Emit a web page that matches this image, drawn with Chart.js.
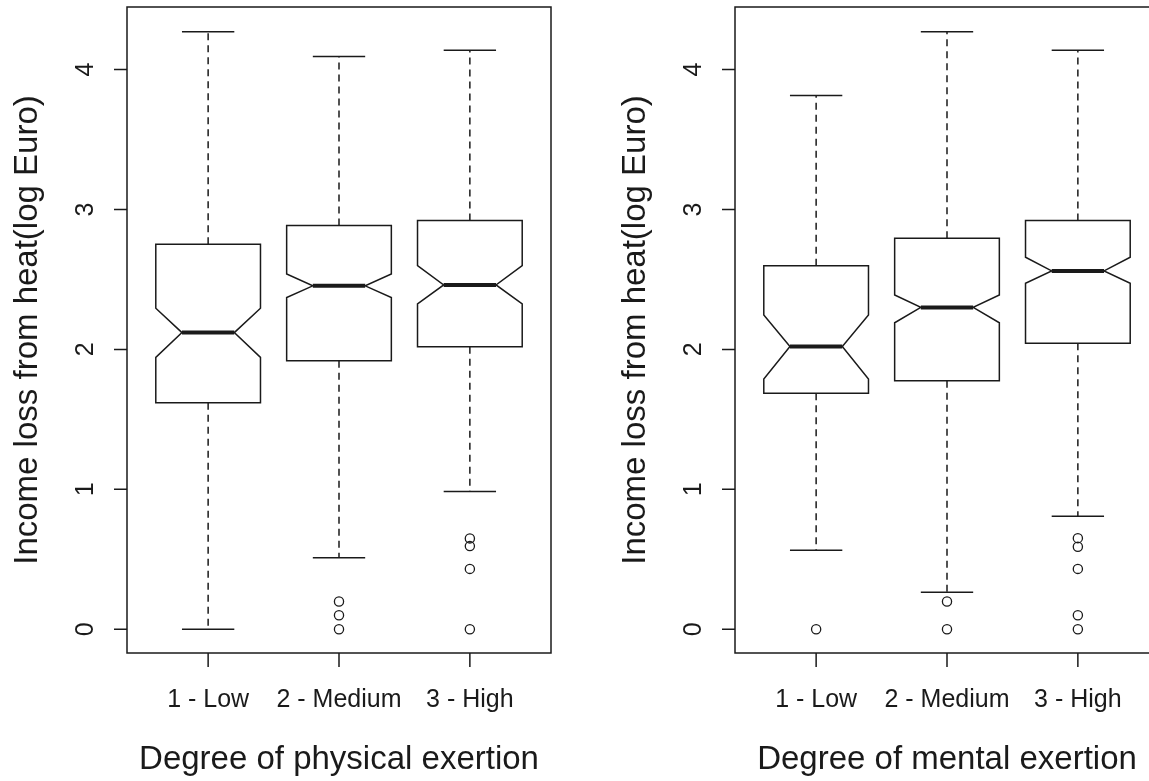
<!DOCTYPE html>
<html>
<head>
<meta charset="utf-8">
<script src="https://cdn.jsdelivr.net/npm/chart.js@4"></script>
<style>
  html, body { margin: 0; padding: 0; background: #fff; overflow: hidden; width: 1149px; height: 781px; }
  canvas { position: absolute; top: 0; }
  #physChart { left: 0; }
  #mentChart { left: 575px; }
</style>
</head>
<body>
<canvas id="physChart" width="575" height="781"></canvas>
<canvas id="mentChart" width="610" height="781"></canvas>
<script>
// categories and tick labels
const categories = ['1 - Low', '2 - Medium', '3 - High'];
const yTicks = [0, 1, 2, 3, 4];
const yTitle = 'Income loss from heat(log Euro)';

// physical exertion
const physWhiskerLow = [0, 0.51, 0.985];
const physQ1 = [1.619, 1.919, 2.019];
const physNotchLow = [1.943, 2.37, 2.325];
const physMedian = [2.12, 2.454, 2.461];
const physNotchHigh = [2.294, 2.539, 2.599];
const physQ3 = [2.752, 2.885, 2.921];
const physWhiskerHigh = [4.27, 4.094, 4.137];
const physOutliers = [[], [0.198, 0.1, 0], [0.649, 0.594, 0.431, 0]];

// mental exertion
const mentWhiskerLow = [0.565, 0.265, 0.808];
const mentQ1 = [1.686, 1.776, 2.044];
const mentNotchLow = [1.788, 2.19, 2.473];
const mentMedian = [2.02, 2.30, 2.561];
const mentNotchHigh = [2.246, 2.389, 2.659];
const mentQ3 = [2.597, 2.795, 2.921];
const mentWhiskerHigh = [3.815, 4.27, 4.137];
const mentOutliers = [[0], [0.198, 0], [0.651, 0.589, 0.431, 0.1, 0]];

const INK = '#1a1a1a';
const FONT = '"Liberation Sans", Arial, sans-serif';

// draws notched boxes, frame, ticks and titles using the chart's own scales
const notchBoxes = {
  id: 'notchBoxes',
  beforeDatasetsDraw(chart, args, o) {
    const ctx = chart.ctx;
    const a = chart.chartArea;
    const xs = chart.scales.x, ys = chart.scales.y;
    const Y = v => ys.getPixelForValue(v);

    ctx.save();
    ctx.strokeStyle = INK;
    ctx.fillStyle = INK;
    ctx.lineJoin = 'miter';

    for (let i = 0; i < categories.length; i++) {
      const c = i + 1;
      const xl = xs.getPixelForValue(c - 0.4), xr = xs.getPixelForValue(c + 0.4);
      const ml = xs.getPixelForValue(c - 0.2), mr = xs.getPixelForValue(c + 0.2);
      const xc = xs.getPixelForValue(c);

      // whiskers
      ctx.lineWidth = 1.5;
      ctx.setLineDash([7, 5]);
      ctx.beginPath();
      ctx.moveTo(xc, Y(o.q3[i])); ctx.lineTo(xc, Y(o.whiskerHigh[i]));
      ctx.moveTo(xc, Y(o.q1[i])); ctx.lineTo(xc, Y(o.whiskerLow[i]));
      ctx.stroke();
      ctx.setLineDash([]);
      ctx.beginPath();
      ctx.moveTo(ml, Y(o.whiskerHigh[i])); ctx.lineTo(mr, Y(o.whiskerHigh[i]));
      ctx.moveTo(ml, Y(o.whiskerLow[i])); ctx.lineTo(mr, Y(o.whiskerLow[i]));
      ctx.stroke();

      // notched box
      ctx.beginPath();
      ctx.moveTo(xl, Y(o.q1[i]));
      ctx.lineTo(xl, Y(o.notchLow[i]));
      ctx.lineTo(ml, Y(o.median[i]));
      ctx.lineTo(xl, Y(o.notchHigh[i]));
      ctx.lineTo(xl, Y(o.q3[i]));
      ctx.lineTo(xr, Y(o.q3[i]));
      ctx.lineTo(xr, Y(o.notchHigh[i]));
      ctx.lineTo(mr, Y(o.median[i]));
      ctx.lineTo(xr, Y(o.notchLow[i]));
      ctx.lineTo(xr, Y(o.q1[i]));
      ctx.closePath();
      ctx.fillStyle = '#fff';
      ctx.fill();
      ctx.stroke();

      // median
      ctx.lineWidth = 4;
      ctx.beginPath();
      ctx.moveTo(ml, Y(o.median[i])); ctx.lineTo(mr, Y(o.median[i]));
      ctx.stroke();
    }

    // frame
    ctx.lineWidth = 1.5;
    ctx.strokeRect(a.left, a.top, a.right - a.left, a.bottom - a.top);

    // y axis
    ctx.fillStyle = INK;
    ctx.font = '25px ' + FONT;
    ctx.textAlign = 'center';
    ctx.textBaseline = 'alphabetic';
    ctx.beginPath();
    for (const v of yTicks) {
      ctx.moveTo(a.left - 13, Y(v)); ctx.lineTo(a.left, Y(v));
    }
    ctx.stroke();
    for (const v of yTicks) {
      ctx.save();
      ctx.translate(a.left - 34, Y(v));
      ctx.rotate(-Math.PI / 2);
      ctx.fillText(String(v), 0, 0);
      ctx.restore();
    }

    // x axis
    ctx.beginPath();
    for (let i = 0; i < categories.length; i++) {
      const px = xs.getPixelForValue(i + 1);
      ctx.moveTo(px, a.bottom); ctx.lineTo(px, a.bottom + 14);
    }
    ctx.stroke();
    for (let i = 0; i < categories.length; i++) {
      ctx.fillText(categories[i], xs.getPixelForValue(i + 1), a.bottom + 54);
    }

    // titles
    ctx.font = '33px ' + FONT;
    ctx.fillText(o.xTitle, (a.left + a.right) / 2, a.bottom + 116);
    ctx.save();
    ctx.translate(a.left - 90, (a.top + a.bottom) / 2);
    ctx.rotate(-Math.PI / 2);
    ctx.fillText(yTitle, 0, 0);
    ctx.restore();

    ctx.restore();
  }
};

function outlierPoints(outliers) {
  const pts = [];
  outliers.forEach((list, i) => list.forEach(v => pts.push({ x: i + 1, y: v })));
  return pts;
}

function makeChart(id, stats, outliers, xTitle, padLeft, padRight) {
  return new Chart(document.getElementById(id), {
    type: 'scatter',
    data: {
      datasets: [{
        data: outlierPoints(outliers),
        pointStyle: 'circle',
        pointRadius: 4.6,
        borderWidth: 1.3,
        borderColor: INK,
        backgroundColor: 'rgba(0,0,0,0)'
      }]
    },
    options: {
      responsive: false,
      animation: false,
      events: [],
      layout: { padding: { left: padLeft, right: padRight, top: 7, bottom: 128 } },
      scales: {
        x: { type: 'linear', min: 0.38, max: 3.62, display: false },
        y: { type: 'linear', min: -0.17, max: 4.447, display: false }
      },
      plugins: {
        legend: { display: false },
        tooltip: { enabled: false },
        notchBoxes: Object.assign({ xTitle: xTitle }, stats)
      }
    },
    plugins: [notchBoxes]
  });
}

makeChart('physChart', {
  whiskerLow: physWhiskerLow, q1: physQ1, notchLow: physNotchLow, median: physMedian,
  notchHigh: physNotchHigh, q3: physQ3, whiskerHigh: physWhiskerHigh
}, physOutliers, 'Degree of physical exertion', 127, 24);

makeChart('mentChart', {
  whiskerLow: mentWhiskerLow, q1: mentQ1, notchLow: mentNotchLow, median: mentMedian,
  notchHigh: mentNotchHigh, q3: mentQ3, whiskerHigh: mentWhiskerHigh
}, mentOutliers, 'Degree of mental exertion', 160, 26);
</script>
</body>
</html>
